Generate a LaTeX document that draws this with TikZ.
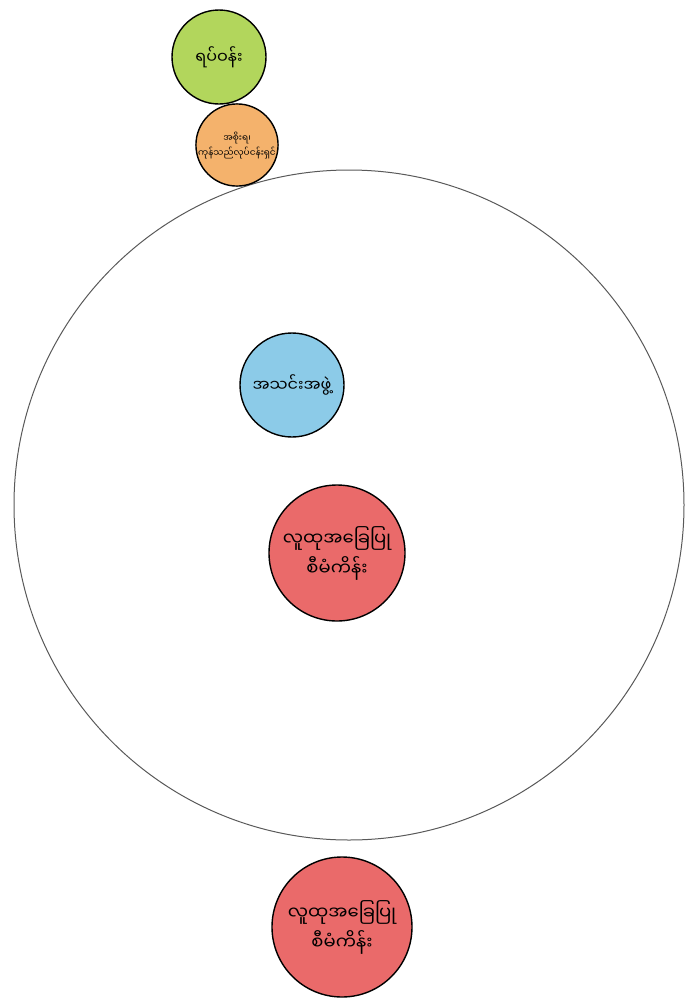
\documentclass[tikz,border=0pt]{standalone}
\usepackage{fontspec}
\newfontfamily\mmfont[Script=Myanmar]{Noto Sans Myanmar UI}
\definecolor{wardgreen}{HTML}{B2D65C}
\definecolor{govorange}{HTML}{F4B26C}
\definecolor{assocblue}{HTML}{8CCBE8}
\definecolor{projred}{HTML}{EA6A6A}
\begin{document}
\begin{tikzpicture}[x=1pt,y=-1pt,font=\mmfont,
  ball/.style={circle,draw=black,line width=1.4pt,inner sep=0pt,align=center}]
\useasboundingbox (0,0) rectangle (691,999);
\coordinate (community) at (349,505);
\draw[black!65,line width=1pt] (community) circle (335);
\node[ball,fill=wardgreen,minimum size=94pt,font=\mmfont\fontsize{16}{18}\selectfont] (ward) at (219,57) {ရပ်ဝန်း};
\node[ball,fill=govorange,minimum size=82pt,font=\mmfont\fontsize{9}{15}\selectfont] (gov) at (237,145) {အစိုးရ၊\\ကုန်သည်လုပ်ငန်းရှင်};
\node[ball,fill=assocblue,minimum size=104pt,font=\mmfont\fontsize{16}{18}\selectfont] (assoc) at (292,385) {အသင်းအဖွဲ့};
\node[ball,fill=projred,minimum size=136pt,font=\mmfont\fontsize{18}{30}\selectfont] (projin) at (337,553) {လူထုအခြေပြု\\စီမံကိန်း};
\node[ball,fill=projred,minimum size=140pt,font=\mmfont\fontsize{18}{30}\selectfont] (projout) at (342,927) {လူထုအခြေပြု\\စီမံကိန်း};
\end{tikzpicture}
\end{document}
